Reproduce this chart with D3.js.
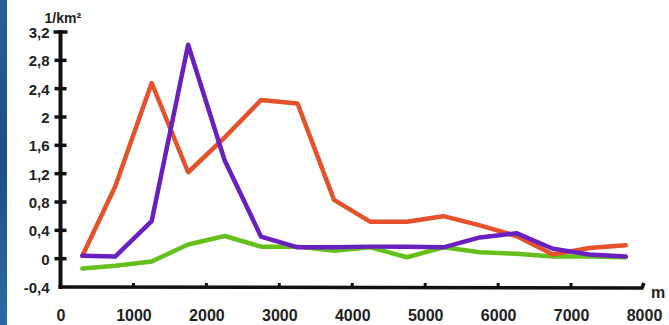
<!DOCTYPE html>
<html><head><meta charset="utf-8">
<script src="https://cdn.jsdelivr.net/npm/d3@7"></script>
<style>
html,body{margin:0;padding:0;background:#fff;}
svg{display:block;}
text{font-family:"Liberation Sans",Arial,sans-serif;font-weight:bold;fill:#222;}
</style></head><body>
<script>
const distances = [300, 750, 1250, 1750, 2250, 2750, 3250, 3750, 4250, 4750, 5250, 5750, 6250, 6750, 7250, 7750];
const orangeSeries = [0.04, 1.02, 2.48, 1.22, 1.71, 2.24, 2.19, 0.83, 0.52, 0.52, 0.60, 0.47, 0.32, 0.06, 0.15, 0.19];
const purpleSeries = [0.04, 0.03, 0.53, 3.02, 1.39, 0.31, 0.16, 0.16, 0.17, 0.17, 0.16, 0.30, 0.36, 0.14, 0.06, 0.03];
const greenSeries  = [-0.14, -0.10, -0.04, 0.20, 0.32, 0.17, 0.17, 0.11, 0.16, 0.02, 0.16, 0.09, 0.07, 0.03, 0.03, 0.02];
const yTicks = [-0.4, 0, 0.4, 0.8, 1.2, 1.6, 2, 2.4, 2.8, 3.2];
const xTicks = [0, 1000, 2000, 3000, 4000, 5000, 6000, 7000, 8000];
const yUnit = "1/km²";
const xUnit = "m";

const W = 669, H = 325;
const svg = d3.select("body").append("svg").attr("width", W).attr("height", H);

// blue left border
const grad = svg.append("defs").append("linearGradient").attr("id","bl").attr("x1","0").attr("x2","0").attr("y1","0").attr("y2","1");
grad.append("stop").attr("offset","0%").attr("stop-color","#2a5d96");
grad.append("stop").attr("offset","50%").attr("stop-color","#1d4f86");
grad.append("stop").attr("offset","100%").attr("stop-color","#2d6aa3");
svg.append("rect").attr("x",0).attr("y",0).attr("width",7).attr("height",H).attr("fill","url(#bl)");

const x = d3.scaleLinear().domain([0, 8000]).range([60.5, 644]);
const y = d3.scaleLinear().domain([-0.4, 3.2]).range([287, 32]);

const fmt = d => String(d).replace(".", ",");

// Y axis
const yAxis = d3.axisLeft(y).tickValues(yTicks).tickFormat(fmt).tickSize(0).tickPadding(11);
const gy = svg.append("g").attr("transform", `translate(${x(0)},0)`).call(yAxis);
gy.select(".domain").remove();
gy.selectAll("text").style("font-size","15px").attr("fill","#222").attr("dy","0.36em");
svg.append("line").attr("x1",x(0)).attr("x2",x(0)).attr("y1",y(3.2)-2).attr("y2",y(-0.4)+2)
  .attr("stroke","#111").attr("stroke-width",4);
svg.selectAll(".ytk").data(yTicks.filter(d=>d>-0.4)).enter().append("line")
  .attr("x1",d=>x(0)-(d===3.2?7:6)).attr("x2",d=>x(0)+(d===3.2?7:6))
  .attr("y1",d=>y(d)).attr("y2",d=>y(d))
  .attr("stroke","#111").attr("stroke-width",3.5);

// X axis
const xAxis = d3.axisBottom(x).tickValues(xTicks).tickFormat(d=>String(d)).tickSize(0).tickPadding(23);
const gx = svg.append("g").attr("transform", `translate(0,${y(-0.4)})`).call(xAxis);
gx.select(".domain").remove();
gx.selectAll("text").style("font-size","16px").attr("fill","#222");
svg.append("path")
  .attr("d", `M${x(0)-2},${y(-0.4)} L${x(8000)-2},${y(-0.4)+1} L${x(8000)},${y(-0.4)-4}`)
  .attr("fill","none").attr("stroke","#111").attr("stroke-width",3.5);
svg.selectAll(".xtk").data(xTicks.filter(d=>d>0 && d<8000)).enter().append("line")
  .attr("x1",d=>x(d)).attr("x2",d=>x(d)).attr("y1",y(-0.4)).attr("y2",y(-0.4)-4)
  .attr("stroke","#111").attr("stroke-width",3);

// unit labels
svg.append("text").attr("x",x(0)-16).attr("y",23).style("font-size","14px").text(yUnit);
svg.append("text").attr("x",x(8000)+7).attr("y",y(-0.4)+11).style("font-size","16px").text(xUnit);

// lines
const line = d3.line().x((d,i)=>x(distances[i])).y(d=>y(d));
const series = [
  {vals: greenSeries, color:"#66c01c"},
  {vals: orangeSeries, color:"#e5512a"},
  {vals: purpleSeries, color:"#6a1fc0"}
];
series.forEach(s=>{
  svg.append("path").datum(s.vals).attr("d", line)
    .attr("fill","none").attr("stroke", s.color).attr("stroke-width",4.5)
    .attr("stroke-linejoin","round").attr("stroke-linecap","round");
});
</script>
</body></html>
